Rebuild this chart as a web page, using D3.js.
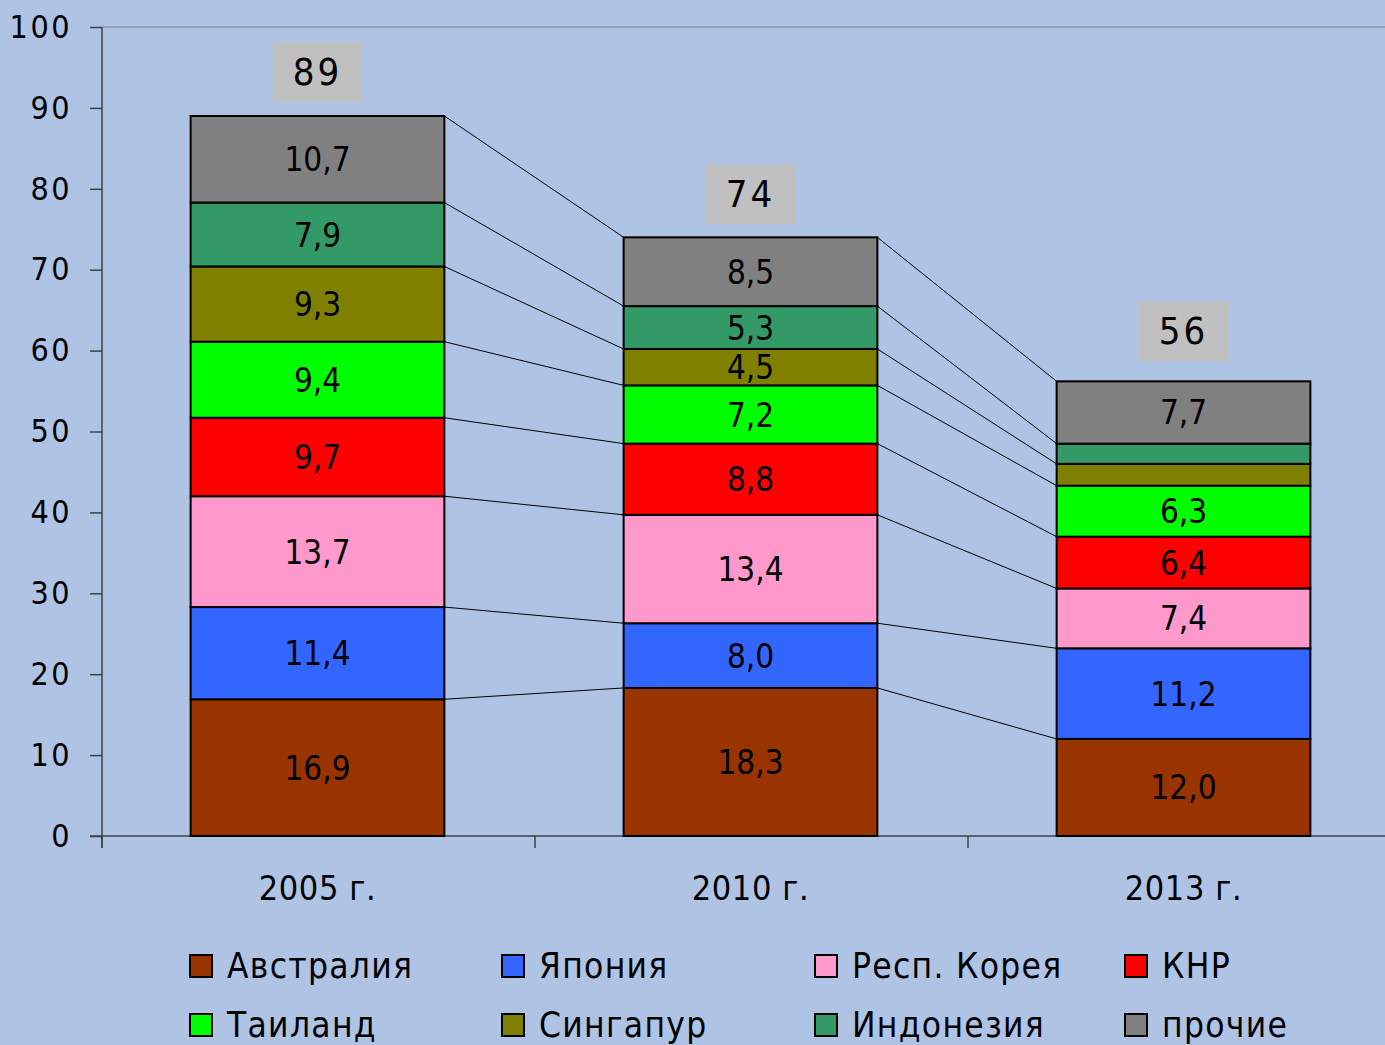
<!DOCTYPE html>
<html lang="ru">
<head>
<meta charset="UTF-8">
<script src="https://d3js.org/d3.v7.min.js"></script>
<style>
    body { margin: 0; background: #afc4e5; }
    text { font-family: "DejaVu Sans Condensed", "DejaVu Sans", sans-serif; fill: #000; }
</style>
</head>
<body>
<script>
    // data
    var years = ["2005 г.", "2010 г.", "2013 г."];
    var countries = ["Австралия", "Япония", "Респ. Корея", "КНР", "Таиланд", "Сингапур", "Индонезия", "прочие"];
    var colors = ["#993300", "#3366ff", "#ff99cc", "#ff0000", "#00ff00", "#808000", "#339966", "#808080"];
    var v2005 = [16.9, 11.4, 13.7, 9.7, 9.4, 9.3, 7.9, 10.7];
    var v2010 = [18.3, 8.0, 13.4, 8.8, 7.2, 4.5, 5.3, 8.5];
    var v2013 = [12.0, 11.2, 7.4, 6.4, 6.3, 2.7, 2.5, 7.7];
    var totals = [89, 74, 56];
    var showLabel2013 = [true, true, true, true, true, false, false, true];
    var yTicks = [0, 10, 20, 30, 40, 50, 60, 70, 80, 90, 100];

    var width = 1385, height = 1045;
    var margin = {top: 27, left: 102, bottom: 836};
    // gap between total box and bar top (boxes were placed by hand in the original)
    var boxGap = [14, 13, 22];

    var svg = d3.select("body").append("svg")
        .attr("width", width)
        .attr("height", height);

    var series = [v2005, v2010, v2013];

    // stacked table
    var table = years.map(function(y, i) {
        var row = {year: y};
        countries.forEach(function(c, j) { row[c] = series[i][j]; });
        return row;
    });
    var stack = d3.stack().keys(countries)(table);

    var x = d3.scaleBand()
        .domain(years)
        .range([101, 1400])
        .paddingInner(0.414)
        .paddingOuter(0.207);

    var y = d3.scaleLinear()
        .domain([0, 100])
        .range([margin.bottom, margin.top]);

    var step = x.step();

    // top line of plot area
    svg.append("line")
        .attr("x1", margin.left).attr("x2", width)
        .attr("y1", y(100)).attr("y2", y(100))
        .attr("stroke", "#9aa3b2").attr("stroke-width", 2);

    // y axis
    var yAxis = svg.append("g")
        .attr("transform", "translate(" + margin.left + ",0)")
        .call(d3.axisLeft(y).tickValues(yTicks).tickSize(12).tickSizeOuter(0).tickPadding(18));
    yAxis.select(".domain").attr("stroke", "#404040").attr("stroke-width", 1.5)
        .attr("d", "M0," + y(100) + "V" + (y(0) + 12));
    yAxis.selectAll(".tick line").attr("stroke", "#404040").attr("stroke-width", 1.5);
    yAxis.selectAll(".tick text")
        .style("font-family", "'DejaVu Sans Condensed', sans-serif")
        .style("font-size", "32px")
        .style("letter-spacing", "2.5px")
        .attr("fill", "#000");

    // x axis
    svg.append("line")
        .attr("x1", margin.left - 12).attr("x2", width)
        .attr("y1", y(0)).attr("y2", y(0))
        .attr("stroke", "#404040").attr("stroke-width", 1.5);
    svg.selectAll(".xtick")
        .data(years)
        .enter().append("line")
        .attr("class", "xtick")
        .attr("x1", function(d, i) { return margin.left + i * step; })
        .attr("x2", function(d, i) { return margin.left + i * step; })
        .attr("y1", y(0)).attr("y2", y(0) + 12)
        .attr("stroke", "#404040").attr("stroke-width", 1.5);
    svg.selectAll(".xlabel")
        .data(years)
        .enter().append("text")
        .attr("class", "xlabel")
        .attr("x", function(d) { return x(d) + x.bandwidth() / 2; })
        .attr("y", 900)
        .attr("text-anchor", "middle")
        .style("font-size", "34px")
        .style("letter-spacing", "0.6px")
        .text(function(d) { return d; });

    // connector lines
    stack.forEach(function(layer) {
        for (var i = 0; i < years.length - 1; i++) {
            svg.append("line")
                .attr("x1", x(years[i]) + x.bandwidth())
                .attr("y1", y(layer[i][1]))
                .attr("x2", x(years[i + 1]))
                .attr("y2", y(layer[i + 1][1]))
                .attr("stroke", "#000").attr("stroke-width", 1);
        }
    });

    // bars
    var layers = svg.selectAll(".layer")
        .data(stack)
        .enter().append("g")
        .attr("class", "layer")
        .attr("fill", function(d, i) { return colors[i]; });

    layers.selectAll("rect")
        .data(function(d) { return d; })
        .enter().append("rect")
        .attr("x", function(d) { return x(d.data.year); })
        .attr("y", function(d) { return y(d[1]); })
        .attr("width", x.bandwidth())
        .attr("height", function(d) { return y(d[0]) - y(d[1]); })
        .attr("stroke", "#000")
        .attr("stroke-width", 2);

    // segment labels
    layers.each(function(layer, k) {
        d3.select(this).selectAll("text")
            .data(layer.filter(function(d, i) { return i < 2 || showLabel2013[k]; }))
            .enter().append("text")
            .attr("x", function(d) { return x(d.data.year) + x.bandwidth() / 2; })
            .attr("y", function(d) { return (y(d[0]) + y(d[1])) / 2 + 12; })
            .attr("text-anchor", "middle")
            .style("font-size", "33px")
            .text(function(d) { return d3.format(".1f")(d[1] - d[0]).replace(".", ","); });
    });

    // totals
    var tot = svg.selectAll(".total")
        .data(years)
        .enter().append("g")
        .attr("class", "total");
    tot.append("rect")
        .attr("x", function(d) { return x(d) + x.bandwidth() / 2 - 45; })
        .attr("y", function(d, i) { return y(totals[i]) - boxGap[i] - 60; })
        .attr("width", 90).attr("height", 60)
        .attr("fill", "#c0c0c0");
    tot.append("text")
        .attr("x", function(d) { return x(d) + x.bandwidth() / 2; })
        .attr("y", function(d, i) { return y(totals[i]) - boxGap[i] - 17; })
        .attr("text-anchor", "middle")
        .style("font-size", "38px")
        .style("letter-spacing", "3px")
        .text(function(d, i) { return totals[i]; });

    // legend
    var legX = [190, 502, 815, 1125];
    var legY = [955, 1014];
    var leg = svg.selectAll(".leg")
        .data(countries)
        .enter().append("g")
        .attr("class", "leg")
        .attr("transform", function(d, i) { return "translate(" + legX[i % 4] + "," + legY[Math.floor(i / 4)] + ")"; });
    leg.append("rect")
        .attr("width", 22).attr("height", 22)
        .attr("fill", function(d, i) { return colors[i]; })
        .attr("stroke", "#000").attr("stroke-width", 2);
    leg.append("text")
        .attr("x", 37).attr("y", 23)
        .style("font-size", "35px")
        .style("letter-spacing", "1.3px")
        .text(function(d) { return d; });
</script>
</body>
</html>
